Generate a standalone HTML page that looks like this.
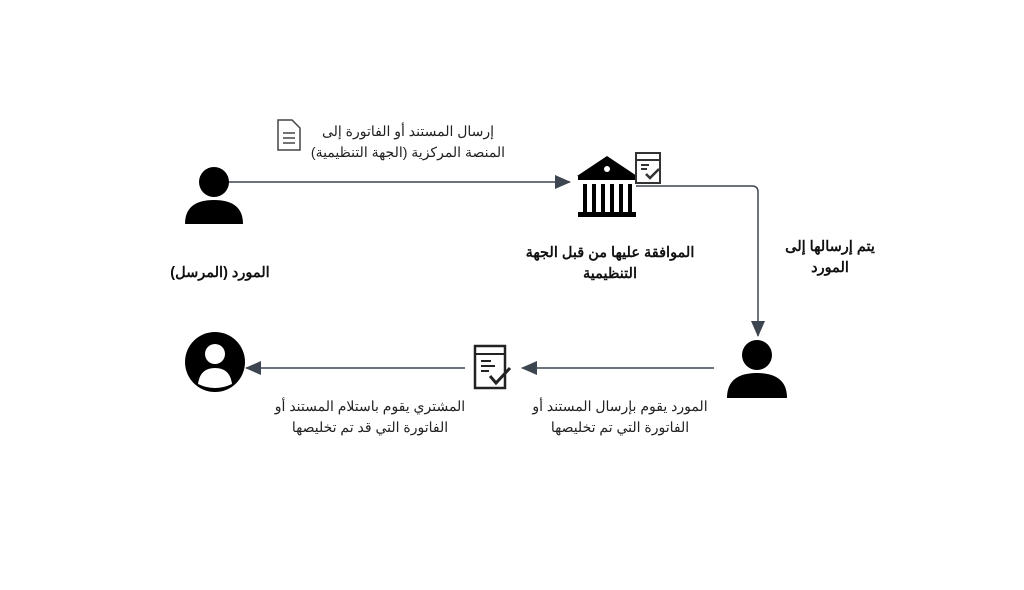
<!DOCTYPE html>
<html><head><meta charset="utf-8"><style>
body{margin:0;width:1024px;height:590px;background:#fff;position:relative;overflow:hidden;font-family:"Liberation Sans","Noto Sans CJK SC",sans-serif;}
.t{position:absolute;direction:rtl;text-align:center;font-size:14px;line-height:21px;color:#222;white-space:nowrap;}
.b{font-weight:bold;font-size:14.5px;color:#111;}
</style></head><body>
<svg width="1024" height="590" style="position:absolute;left:0;top:0">
<defs><marker id="a2" markerWidth="16" markerHeight="14" refX="15" refY="7" orient="auto" markerUnits="userSpaceOnUse"><path d="M0,0 L16,7 L0,14 Z" fill="#3d4550"/></marker></defs>
<g stroke="#3d4550" stroke-width="1.5" fill="none">
<line x1="228" y1="182" x2="570" y2="182" marker-end="url(#a2)"/>
<path d="M636 186 H752 Q758 186 758 192 V336" marker-end="url(#a2)"/>
<line x1="714" y1="368" x2="522" y2="368" marker-end="url(#a2)"/>
<line x1="465" y1="368" x2="246" y2="368" marker-end="url(#a2)"/>
</g>
<circle cx="214" cy="182" r="15" fill="#000"/>
<path d="M185 224 Q185 200 214 200 Q243 200 243 224 Z" fill="#000"/>
<path d="M278 120 h14 l8 8 v22 h-22 z" fill="#fff" stroke="#444" stroke-width="1.5"/>
<line x1="283" y1="133" x2="295" y2="133" stroke="#444" stroke-width="1.5"/>
<line x1="283" y1="138" x2="295" y2="138" stroke="#444" stroke-width="1.5"/>
<line x1="283" y1="143" x2="295" y2="143" stroke="#444" stroke-width="1.5"/>
<path d="M577 176 L607 156 L637 176 Z" fill="#000"/>
<circle cx="607" cy="169" r="3" fill="#fff"/>
<rect x="578" y="176" width="58" height="4" fill="#000"/>
<g fill="#000"><rect x="583" y="184" width="4" height="28"/><rect x="592" y="184" width="4" height="28"/><rect x="601" y="184" width="4" height="28"/><rect x="610" y="184" width="4" height="28"/><rect x="619" y="184" width="4" height="28"/><rect x="628" y="184" width="4" height="28"/><rect x="578" y="212" width="58" height="5"/></g>
<rect x="636" y="153" width="24" height="30" fill="#fff" stroke="#333" stroke-width="2"/>
<line x1="636" y1="160" x2="660" y2="160" stroke="#333" stroke-width="2"/>
<path d="M641 165 h8 M641 169 h6" stroke="#333" stroke-width="2"/>
<path d="M646 174 l4 4 l9 -9" stroke="#333" stroke-width="2.5" fill="none"/>
<circle cx="757" cy="355" r="15" fill="#000"/>
<path d="M727 398 Q727 373 757 373 Q787 373 787 398 Z" fill="#000"/>
<rect x="475" y="346" width="30" height="42" fill="#fff" stroke="#222" stroke-width="2.5"/>
<line x1="475" y1="354" x2="505" y2="354" stroke="#222" stroke-width="2"/>
<path d="M481 361 h10 M481 366 h14 M481 371 h8" stroke="#222" stroke-width="2"/>
<path d="M490 376 l6 7 l14 -15" stroke="#222" stroke-width="3" fill="none"/>
<circle cx="215" cy="362" r="30" fill="#000"/>
<circle cx="215" cy="354" r="10" fill="#fff"/>
<path d="M198 384 Q200 368 215 368 Q230 368 232 384 Q215 392 198 384 Z" fill="#fff"/>
</svg>
<div class="t" style="left:298px;top:121px;width:220px">إرسال المستند أو الفاتورة إلى<br>المنصة المركزية (الجهة التنظيمية)</div>
<div class="t b" style="left:150px;top:263px;width:140px">المورد (المرسل)</div>
<div class="t b" style="left:505px;top:243px;width:210px">الموافقة عليها من قبل الجهة<br>التنظيمية</div>
<div class="t b" style="left:765px;top:237px;width:130px">يتم إرسالها إلى<br>المورد</div>
<div class="t" style="left:510px;top:396px;width:220px">المورد يقوم بإرسال المستند أو<br>الفاتورة التي تم تخليصها</div>
<div class="t" style="left:250px;top:396px;width:240px">المشتري يقوم باستلام المستند أو<br>الفاتورة التي قد تم تخليصها</div>
</body></html>
